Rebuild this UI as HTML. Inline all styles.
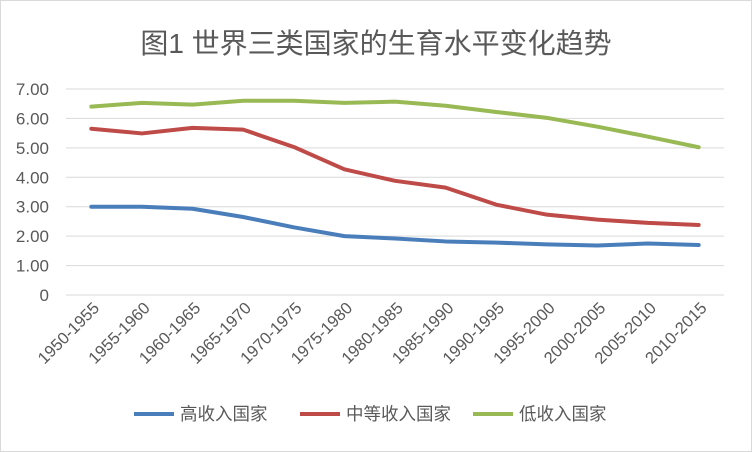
<!DOCTYPE html>
<html><head><meta charset="utf-8"><style>
body{margin:0;background:#fff}
svg{display:block;font-family:"Liberation Sans","Noto Sans CJK SC",sans-serif}
</style></head><body>
<svg width="752" height="452">
<rect x="0.5" y="0.5" width="751" height="451" fill="#fff" stroke="#d9d9d9"/>
<text x="376" y="53" text-anchor="middle" font-size="28" fill="#595959">图1 世界三类国家的生育水平变化趋势</text>
<g id="grid"></g><g id="ylab"></g><g id="xlab"></g><g id="lines"></g>
<g>
<line x1="134" y1="414" x2="174" y2="414" stroke="#4a7ebb" stroke-width="4"/>
<text x="180" y="420" font-size="17.5" fill="#595959">高收入国家</text>
<line x1="300" y1="414" x2="340" y2="414" stroke="#be4b48" stroke-width="4"/>
<text x="346" y="420" font-size="17.5" fill="#595959">中等收入国家</text>
<line x1="473" y1="414" x2="513" y2="414" stroke="#98b954" stroke-width="4"/>
<text x="519" y="420" font-size="17.5" fill="#595959">低收入国家</text>
</g>
</svg>
<script>
const categories=["1950-1955","1955-1960","1960-1965","1965-1970","1970-1975","1975-1980","1980-1985","1985-1990","1990-1995","1995-2000","2000-2005","2005-2010","2010-2015"];
const highIncome=[3.0,3.0,2.93,2.65,2.3,2.0,1.92,1.82,1.78,1.72,1.68,1.75,1.7];
const middleIncome=[5.65,5.49,5.68,5.62,5.03,4.27,3.88,3.65,3.07,2.73,2.56,2.45,2.38];
const lowIncome=[6.4,6.53,6.47,6.6,6.6,6.53,6.57,6.43,6.22,6.02,5.72,5.38,5.02];
const yTicks=[0,1,2,3,4,5,6,7];
const yTickLabels=["0","1.00","2.00","3.00","4.00","5.00","6.00","7.00"];
const NS="http://www.w3.org/2000/svg";
const L=66,R=724,Y0=295,Y7=89;
const y=v=>Y0-(Y0-Y7)*v/7;
const w=(R-L)/categories.length;
const x=i=>L+(i+0.5)*w;
function mk(t,a,p){const e=document.createElementNS(NS,t);for(const k in a)e.setAttribute(k,a[k]);document.getElementById(p).appendChild(e);return e;}
yTicks.forEach((v,i)=>{
 const g=mk("line",{x1:L,x2:R,y1:y(v),y2:y(v),stroke:"#d9d9d9","stroke-width":1},"grid");
 
 
 const t=mk("text",{x:49,y:y(v)+6,"text-anchor":"end","font-size":17,fill:"#595959"},"ylab");
 t.textContent=yTickLabels[i];
 
 
});
categories.forEach((c,i)=>{
 const t=mk("text",{x:x(i)+9,y:309,"text-anchor":"end","font-size":16.5,fill:"#595959",transform:`rotate(-45 ${x(i)+9} 309)`},"xlab");
 t.textContent=c;
 
 
});
[[highIncome,"#4a7ebb","line-high-income"],[middleIncome,"#be4b48","line-middle-income"],[lowIncome,"#98b954","line-low-income"]].forEach(([d,c,n])=>{
 const p=mk("polyline",{points:d.map((v,i)=>x(i)+","+y(v)).join(" "),fill:"none",stroke:c,"stroke-width":4,"stroke-linejoin":"round","stroke-linecap":"round"},"lines");
 
 
});
</script>
</body></html>
